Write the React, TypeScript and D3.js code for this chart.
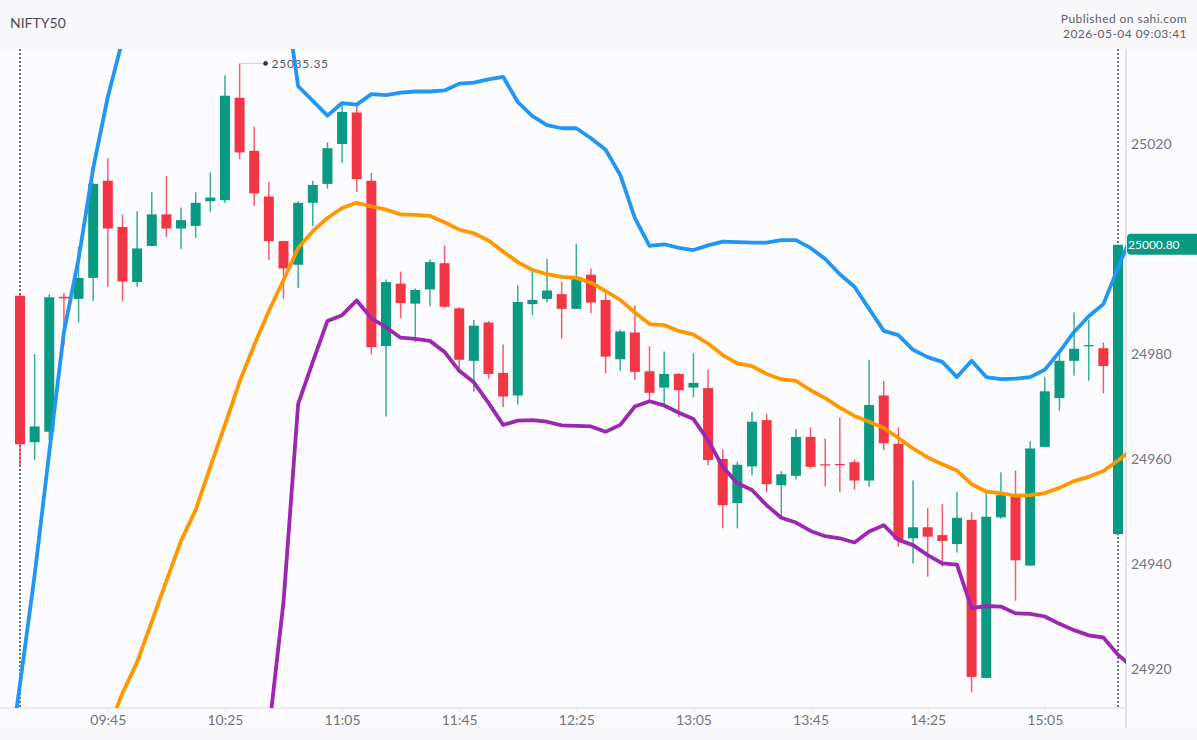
import { useEffect, useRef } from "react";
import * as d3 from "d3";

// 5 minute candles, 09:15 to 15:30
const opens = [
  24991.1, 24963.2, 24965.2, 24990.9, 24990.5, 24994.5, 25013.0, 25004.2, 24993.7, 25000.6,
  25006.6, 25003.9, 25004.4, 25009.1, 25009.3, 25028.8, 25018.7, 25010.0, 25001.5, 24997.0,
  25008.8, 25012.4, 25020.0, 25026.0, 25013.0, 24981.5, 24993.4, 24989.6, 24992.3, 24997.3,
  24988.7, 24978.7, 24986.0, 24976.4, 24972.1, 24989.5, 24990.5, 24991.4, 24988.6, 24995.1,
  24990.3, 24979.0, 24984.1, 24976.7, 24973.6, 24976.2, 24973.6, 24973.5, 24960.0, 24951.6,
  24958.6, 24967.4, 24955.0, 24956.8, 24964.2, 24959.0, 24959.05, 24959.4, 24955.9, 24972.1,
  24962.9, 24944.9, 24947.0, 24945.5, 24943.8, 24948.4, 24918.3, 24948.9, 24952.8, 24939.7,
  24962.3, 24971.6, 24978.7, 24981.5, 24981.1, 24945.7,
];
const closes = [
  24962.8, 24966.2, 24990.8, 24990.6, 24994.5, 25012.4, 25003.9, 24993.8, 25000.1, 25006.6,
  25003.9, 25005.5, 25008.8, 25009.8, 25029.2, 25018.4, 25010.6, 25001.5, 24996.3, 25008.8,
  25012.2, 25019.2, 25026.1, 25013.3, 24981.3, 24993.7, 24989.7, 24992.2, 24997.5, 24989.0,
  24978.9, 24985.4, 24976.2, 24971.9, 24989.9, 24990.3, 24992.1, 24988.6, 24994.7, 24989.8,
  24979.5, 24984.3, 24976.6, 24972.6, 24976.2, 24973.1, 24974.5, 24959.8, 24951.2, 24958.9,
  24967.1, 24955.2, 24957.1, 24964.2, 24958.5, 24958.8, 24958.85, 24955.9, 24970.3, 24963.0,
  24944.6, 24947.0, 24945.2, 24944.4, 24948.8, 24918.5, 24949.0, 24953.1, 24940.7, 24962.0,
  24972.9, 24978.7, 24981.0, 24981.7, 24977.7, 25000.8,
];
const highs = [
  24991.3, 24980.0, 24991.4, 24991.6, 25000.4, 25012.6, 25017.3, 25006.5, 25007.2, 25010.8,
  25013.9, 25007.9, 25010.8, 25014.6, 25033.1, 25035.35, 25023.3, 25012.8, 25001.6, 25009.1,
  25013.0, 25020.3, 25027.6, 25027.2, 25014.5, 24994.2, 24995.7, 24992.5, 24998.0, 25000.6,
  24988.9, 24986.5, 24986.3, 24981.8, 24993.1, 24996.0, 24998.1, 24993.8, 25001.0, 24996.3,
  24991.6, 24984.6, 24989.3, 24981.5, 24980.5, 24976.4, 24980.2, 24977.0, 24961.9, 24959.5,
  24969.0, 24968.6, 24957.7, 24965.7, 24966.0, 24963.9, 24967.9, 24959.9, 24978.9, 24974.9,
  24966.0, 24955.9, 24950.7, 24951.4, 24953.7, 24949.8, 24953.9, 24957.5, 24957.8, 24963.4,
  24975.6, 24980.1, 24987.9, 24986.5, 24982.2, 25000.8,
];
const lows = [
  24958.7, 24959.8, 24963.6, 24981.7, 24986.0, 24990.1, 24992.8, 24990.1, 24992.8, 25000.5,
  25002.3, 25000.0, 25002.1, 25007.1, 25008.8, 25017.1, 25008.2, 24997.9, 24990.5, 24992.6,
  25004.4, 25011.5, 25016.4, 25010.9, 24979.9, 24968.1, 24986.8, 24982.3, 24989.1, 24988.7,
  24977.0, 24972.8, 24975.3, 24969.9, 24970.4, 24987.4, 24989.8, 24982.9, 24988.5, 24987.8,
  24976.3, 24976.8, 24975.1, 24971.1, 24970.5, 24967.9, 24971.8, 24958.8, 24946.8, 24946.8,
  24956.9, 24953.7, 24949.0, 24956.1, 24958.2, 24954.8, 24953.7, 24954.2, 24954.7, 24961.7,
  24943.3, 24940.1, 24937.6, 24939.5, 24942.2, 24915.5, 24918.2, 24948.6, 24933.0, 24939.6,
  24962.2, 24969.2, 24975.9, 24974.9, 24972.5, 24945.5,
];

// Indicator lines run from one bar before the first candle to one bar after the last.
// null = off the visible range, could not be read.
const upperBand = [
  24897.0, 24917.1, 24937.9, 24961.3, 24984.2, 24998.1, 25015.4, 25029.0, 25039.8, 25049.3,
  null, null, null, null, null, null, null, null, null,
  25050.5, 25031.0, 25028.2, 25025.4, 25027.8, 25027.5, 25029.5, 25029.3, 25029.8, 25030.0,
  25030.0, 25030.2, 25031.5, 25031.7, 25032.3, 25032.8, 25028.0, 25025.3, 25023.6, 25023.0,
  25023.0, 25021.1, 25018.9, 25014.1, 25005.9, 25000.6, 25000.9, 25000.2, 24999.8, 25000.7,
  25001.4, 25001.3, 25001.2, 25001.2, 25001.7, 25001.7, 25000.2, 24998.1, 24995.2, 24992.8,
  24988.6, 24984.4, 24983.6, 24980.8, 24979.4, 24978.5, 24975.6, 24978.7, 24975.6, 24975.2,
  24975.3, 24975.6, 24977.0, 24980.4, 24984.2, 24987.2, 24989.5, 24996.4, 25003.0,
];
const midLine = [
  null, null, null, null, null, null, null,
  24908.4, 24915.4, 24921.3, 24929.0, 24936.8, 24944.4, 24950.3, 24958.5, 24966.5, 24974.7,
  24981.7, 24988.2, 24994.1, 25000.2, 25003.4, 25005.9, 25007.8, 25008.8, 25008.1, 25007.5,
  25006.6, 25006.5, 25006.3, 25005.1, 25003.7, 25003.0, 25001.6, 24999.5, 24997.5, 24996.0,
  24995.2, 24994.7, 24994.5, 24993.6, 24992.0, 24990.3, 24987.9, 24985.7, 24985.5, 24984.4,
  24983.7, 24982.0, 24979.8, 24978.2, 24977.7, 24976.2, 24975.2, 24974.9, 24973.1, 24971.6,
  24969.8, 24968.2, 24967.1, 24965.9, 24964.0, 24962.0, 24960.3, 24959.0, 24957.8, 24955.2,
  24953.8, 24953.5, 24953.0, 24953.1, 24953.5, 24954.5, 24955.8, 24956.6, 24957.7, 24959.7,
  24961.9,
];
const lowerBand = [
  null, null, null, null, null, null, null, null, null,
  null, null, null, null, null, null, null, null, null,
  24908.1, 24932.8, 24970.5, 24978.5, 24986.3, 24987.4, 24990.2, 24986.8, 24985.1, 24983.1,
  24982.9, 24982.5, 24980.4, 24976.8, 24974.6, 24970.7, 24966.5, 24967.3, 24967.4, 24967.1,
  24966.4, 24966.3, 24966.2, 24965.2, 24966.5, 24970.0, 24971.0, 24970.2, 24968.8, 24967.6,
  24963.6, 24958.5, 24955.4, 24954.1, 24951.2, 24948.8, 24947.9, 24946.3, 24945.3, 24944.9,
  24944.1, 24946.2, 24947.4, 24944.6, 24943.6, 24941.7, 24940.1, 24939.9, 24931.6, 24932.0,
  24931.9, 24930.6, 24930.5, 24930.0, 24928.6, 24927.4, 24926.4, 24926.0, 24922.7, 24920.4,
];

// 25000 sits under the last price tag, so it is not labelled
const yTicks = [24920, 24940, 24960, 24980, 25020];
const timeLabels = ["09:45", "10:25", "11:05", "11:45", "12:25", "13:05", "13:45", "14:25", "15:05"];
const dayHigh = 25035.35;
const lastPrice = 25000.8;

const FONT = "Lato, sans-serif";
const UP = "#0a9981";
const DOWN = "#f23645";

function barIndex(label: string) {
  const [h, m] = label.split(":").map(Number);
  return (h * 60 + m - (9 * 60 + 15)) / 5;
}

export default function App() {
  const ref = useRef<SVGSVGElement>(null);

  useEffect(() => {
    const width = 1197, height = 740;
    const plotTop = 49, plotBottom = 708, plotRight = 1126, stripBottom = 728;

    const svg = d3.select(ref.current);
    svg.selectAll("*").remove();

    const x = d3.scaleLinear().domain([0, 75]).range([20, 1118]);
    const y = d3.scaleLinear().domain([24920, 25020]).range([669, 144]);

    // backgrounds
    svg.append("rect").attr("width", width).attr("height", height).attr("fill", "#f8f8fa");
    svg.append("rect").attr("y", plotTop).attr("width", width).attr("height", stripBottom - plotTop).attr("fill", "#fcfcfe");

    svg.append("clipPath").attr("id", "plot")
      .append("rect").attr("x", 0).attr("y", plotTop).attr("width", plotRight).attr("height", plotBottom - plotTop);

    // session boundaries
    [0, 75].forEach(i => {
      svg.append("line")
        .attr("x1", x(i)).attr("x2", x(i))
        .attr("y1", plotTop).attr("y2", plotBottom)
        .attr("stroke", "#6f7079").attr("stroke-width", 2).attr("stroke-dasharray", "2 2");
    });

    // axes
    const yAxis = svg.append("g")
      .attr("transform", `translate(${plotRight},0)`)
      .call(d3.axisRight(y).tickValues(yTicks).tickSize(4).tickPadding(1).tickFormat(d3.format("d")));
    yAxis.select(".domain").remove();

    const xAxis = svg.append("g")
      .attr("transform", `translate(0,${plotBottom})`)
      .call(d3.axisBottom(x).tickValues(timeLabels.map(barIndex)).tickSize(3).tickPadding(4)
        .tickFormat((_, i) => timeLabels[i]));
    xAxis.select(".domain").remove();

    [yAxis, xAxis].forEach(a => {
      a.selectAll("line").attr("stroke", "#e3e4ea");
      a.selectAll("text").attr("fill", "#72737c").attr("font-family", FONT).attr("font-size", 14);
    });

    svg.append("line").attr("x1", 0).attr("x2", plotRight).attr("y1", plotBottom).attr("y2", plotBottom)
      .attr("stroke", "#e3e4ea").attr("stroke-width", 1.5);
    svg.append("line").attr("x1", plotRight).attr("x2", plotRight).attr("y1", plotTop).attr("y2", stripBottom)
      .attr("stroke", "#dcdde3").attr("stroke-width", 1.5);

    // candles
    const plot = svg.append("g").attr("clip-path", "url(#plot)");
    const candles = plot.selectAll("g.candle").data(opens.map((o, i) => i)).join("g").attr("class", "candle");
    const colour = (i: number) => (closes[i] >= opens[i] ? UP : DOWN);
    const bodyWidth = 10;

    candles.append("line")
      .attr("x1", i => x(i)).attr("x2", i => x(i))
      .attr("y1", i => y(highs[i])).attr("y2", i => y(lows[i]))
      .attr("stroke", colour).attr("stroke-width", 1.5).attr("stroke-opacity", 0.8);
    candles.append("rect")
      .attr("x", i => x(i) - bodyWidth / 2)
      .attr("width", bodyWidth)
      .attr("y", i => y(Math.max(opens[i], closes[i])))
      .attr("height", i => Math.max(1.2, Math.abs(y(opens[i]) - y(closes[i]))))
      .attr("fill", colour);

    // high marker
    const hiIndex = highs.indexOf(dayHigh);
    const hx = x(hiIndex), hy = y(dayHigh);
    svg.append("line").attr("x1", hx).attr("x2", hx + 26).attr("y1", hy).attr("y2", hy)
      .attr("stroke", "#cfd0d6").attr("stroke-width", 1);
    svg.append("circle").attr("cx", hx + 26).attr("cy", hy).attr("r", 2.3).attr("fill", "#33343c");
    svg.append("text").attr("x", hx + 32).attr("y", hy + 4.5)
      .attr("font-family", FONT).attr("font-size", 12).attr("letter-spacing", 0.7).attr("fill", "#55565f")
      .text(dayHigh.toFixed(2));

    // indicator lines
    const line = d3.line<number | null>()
      .defined(d => d != null)
      .x((_, i) => x(i - 1))
      .y(d => y(d as number));
    [[upperBand, "#2196f3"], [midLine, "#ff9800"], [lowerBand, "#9c27b0"]].forEach(([values, stroke]) => {
      svg.append("path")
        .attr("clip-path", "url(#plot)")
        .attr("d", line(values as (number | null)[]))
        .attr("fill", "none").attr("stroke", stroke as string)
        .attr("stroke-width", 3.8).attr("stroke-linejoin", "round");
    });

    // last price tag
    const ly = y(lastPrice) - 0.5;
    svg.append("path")
      .attr("d", `M${width},${ly - 10.5}H${plotRight + 5}a4,4 0 0 0 -4,4V${ly + 6.5}a4,4 0 0 0 4,4H${width}Z`)
      .attr("fill", UP);
    svg.append("text").attr("x", plotRight + 2).attr("y", ly + 4.5)
      .attr("font-family", FONT).attr("font-size", 12).attr("fill", "#fff")
      .text(lastPrice.toFixed(2));

    // header
    svg.append("text").attr("x", 10).attr("y", 28)
      .attr("font-family", FONT).attr("font-size", 14).attr("fill", "#4a4b54").text("NIFTY50");
    svg.append("text").attr("x", 1187).attr("y", 23).attr("text-anchor", "end")
      .attr("font-family", FONT).attr("font-size", 12).attr("letter-spacing", 0.45).attr("fill", "#5f606a")
      .text("Published on sahi.com");
    svg.append("text").attr("x", 1187).attr("y", 38).attr("text-anchor", "end")
      .attr("font-family", FONT).attr("font-size", 12).attr("letter-spacing", 0.45).attr("fill", "#5f606a")
      .text("2026-05-04 09:03:41");
  }, []);

  return (
    <svg
      ref={ref}
      width={1197}
      height={740}
      style={{ position: "absolute", top: 0, left: 0, display: "block" }}
    />
  );
}
